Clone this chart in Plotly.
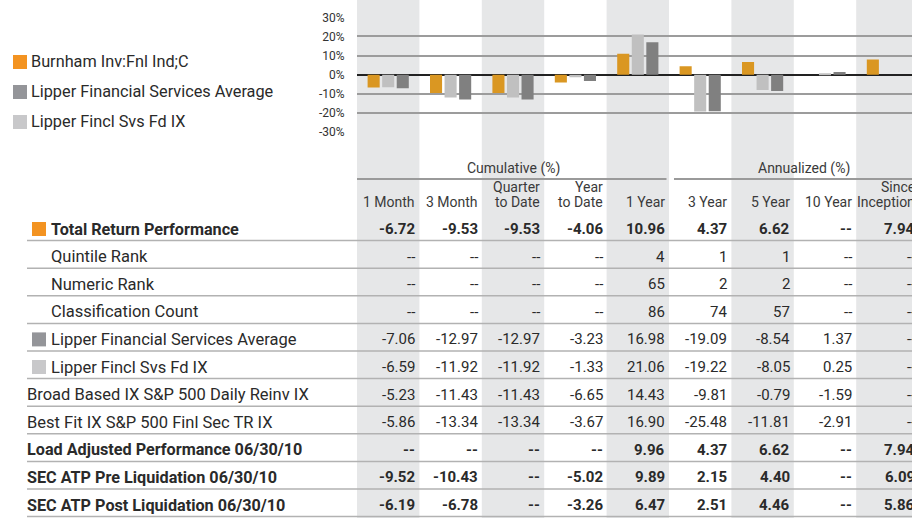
import plotly.graph_objects as go

# ---------------- data ----------------
periods = ["1 Month", "3 Month", "Quarter to Date", "Year to Date", "1 Year",
           "3 Year", "5 Year", "10 Year", "Since Inception"]
header_labels = ["1 Month", "3 Month", "Quarter<br>to Date", "Year<br>to Date", "1 Year",
                 "3 Year", "5 Year", "10 Year", "Since<br>Inception"]
group_labels = ["Cumulative (%)", "Annualized (%)"]
series_names = ["Burnham Inv:Fnl Ind;C", "Lipper Financial Services Average", "Lipper Fincl Svs Fd IX"]

fund = [-6.72, -9.53, -9.53, -4.06, 10.96, 4.37, 6.62, None, 7.94]
lipper_avg = [-7.06, -12.97, -12.97, -3.23, 16.98, -19.09, -8.54, 1.37, None]
lipper_ix = [-6.59, -11.92, -11.92, -1.33, 21.06, -19.22, -8.05, 0.25, None]

y_tick_vals = [30, 20, 10, 0, -10, -20, -30]
y_tick_text = ["30%", "20%", "10%", "0%", "-10%", "-20%", "-30%"]

quintile_rank = [None, None, None, None, 4, 1, 1, None, None]
numeric_rank = [None, None, None, None, 65, 2, 2, None, None]
classification_count = [None, None, None, None, 86, 74, 57, None, None]
broad_based = [-5.23, -11.43, -11.43, -6.65, 14.43, -9.81, -0.79, -1.59, None]
best_fit = [-5.86, -13.34, -13.34, -3.67, 16.90, -25.48, -11.81, -2.91, None]
load_adjusted = [None, None, None, None, 9.96, 4.37, 6.62, None, 7.94]
sec_pre = [-9.52, -10.43, None, -5.02, 9.89, 2.15, 4.40, None, 6.09]
sec_post = [-6.19, -6.78, None, -3.26, 6.47, 2.51, 4.46, None, 5.86]

table_labels = ["Total Return Performance", "Quintile Rank", "Numeric Rank",
                "Classification Count", "Lipper Financial Services Average",
                "Lipper Fincl Svs Fd IX", "Broad Based IX S&P 500 Daily Reinv IX",
                "Best Fit IX S&P 500 Finl Sec TR IX", "Load Adjusted Performance 06/30/10",
                "SEC ATP Pre Liquidation 06/30/10", "SEC ATP Post Liquidation 06/30/10"]
table_values = [fund, quintile_rank, numeric_rank, classification_count, lipper_avg,
                lipper_ix, broad_based, best_fit, load_adjusted, sec_pre, sec_post]

# ---------------- styling / layout ----------------
W, H = 912, 518
FONT = "Roboto, Liberation Sans, sans-serif"
BAR_COLORS = ["#DA9722", "#808080", "#C0C0C0"]      # fund, average, index
KEY_COLORS = ["#F39321", "#949599", "#C8C8CA"]
SHADE = "#E6E7E8"
TXT = "#2a2a2a"
HDR = "#3a3a3a"

PLOT_LEFT = 357
COL_PX = 62.4
X_END = -0.5 + (W - PLOT_LEFT) / COL_PX

ROW0_PX, ROW_PX = 229, 27.6


def v2(p):  # pixel -> y2 value
    return (p - ROW0_PX) / ROW_PX


def px(p):
    return p / W


def py(p):
    return 1 - p / H


def fmt(v):
    if v is None:
        return "--"
    if isinstance(v, int):
        return str(v)
    return f"{v:.2f}"


fig = go.Figure()
# bar order in chart: fund, index (light), average (dark)
for name, vals, col in [(series_names[0], fund, BAR_COLORS[0]),
                        (series_names[2], lipper_ix, BAR_COLORS[2]),
                        (series_names[1], lipper_avg, BAR_COLORS[1])]:
    fig.add_trace(go.Bar(x=periods, y=vals, name=name, marker_color=col,
                         marker_line_width=0, showlegend=False, hoverinfo="skip",
                         xaxis="x", yaxis="y"))

shapes = []
annotations = []

# shaded columns
for i in range(0, len(periods), 2):
    shapes.append(dict(type="rect", xref="x", yref="paper", x0=i - 0.5, x1=i + 0.5,
                       y0=0, y1=1, fillcolor=SHADE, line_width=0, layer="below"))

# row separator lines
for k in range(len(table_labels)):
    y = k + 0.42
    shapes.append(dict(type="line", xref="paper", yref="y2", x0=px(27), x1=1,
                       y0=y, y1=y, line=dict(color="#B2B2B2", width=1.5), layer="below"))

# group header lines
hy = v2(179)
shapes.append(dict(type="line", xref="x", yref="y2", x0=-0.5, x1=4.46, y0=hy, y1=hy,
                   line=dict(color="#9A9A9A", width=2)))
shapes.append(dict(type="line", xref="x", yref="y2", x0=4.58, x1=X_END, y0=hy, y1=hy,
                   line=dict(color="#9A9A9A", width=2)))

# group header texts
annotations.append(dict(text=group_labels[0], xref="x", yref="y2", x=2, y=v2(168),
                        xanchor="center", yanchor="middle", showarrow=False,
                        font=dict(size=14, color=HDR, family=FONT)))
annotations.append(dict(text=group_labels[1], xref="x", yref="y2", x=6.5, xshift=10, y=v2(168),
                        xanchor="center", yanchor="middle", showarrow=False,
                        font=dict(size=14, color=HDR, family=FONT)))

# column headers
for i, h in enumerate(header_labels):
    parts = h.split("<br>")
    for j, part in enumerate(reversed(parts)):
        annotations.append(dict(text=part, xref="x", yref="y2", x=i, xshift=COL_PX / 2 - 2,
                                y=v2(202 - 15 * j), xanchor="right", yanchor="middle",
                                showarrow=False, font=dict(size=14, color=HDR, family=FONT)))

bold_rows = {0, 8, 9, 10}
indent_rows = {0, 1, 2, 3, 4, 5}
key_rows = {0: KEY_COLORS[0], 4: KEY_COLORS[1], 5: KEY_COLORS[2]}

for k, (lab, vals) in enumerate(zip(table_labels, table_values)):
    bold = k in bold_rows
    txt = f"<b>{lab}</b>" if bold else lab
    xl = 49 if k in indent_rows else 25
    annotations.append(dict(text=txt, xref="paper", yref="y2", x=px(xl), y=k,
                            xanchor="left", yanchor="middle", showarrow=False,
                            font=dict(size=16.2 if bold else 16.5, color=TXT, family=FONT)))
    if k in key_rows:
        shapes.append(dict(type="rect", xref="paper", yref="y2", x0=px(32), x1=px(46),
                           y0=k - 7 / ROW_PX, y1=k + 7 / ROW_PX, fillcolor=key_rows[k],
                           line_width=0))
    for i, v in enumerate(vals):
        s = fmt(v)
        annotations.append(dict(text=f"<b>{s}</b>" if bold else s, xref="x", yref="y2",
                                x=i, xshift=COL_PX / 2 - 2, y=k, xanchor="right",
                                yanchor="middle", showarrow=False,
                                font=dict(size=15, color=TXT, family=FONT)))

# legend (left)
legend_order = [0, 1, 2]
for r, si in enumerate(legend_order):
    cy = 62 + 30 * r
    shapes.append(dict(type="rect", xref="paper", yref="paper", x0=px(13), x1=px(27),
                       y0=py(cy + 7), y1=py(cy - 7), fillcolor=KEY_COLORS[si], line_width=0))
    annotations.append(dict(text=series_names[si], xref="paper", yref="paper",
                            x=px(29), y=py(cy), xanchor="left", yanchor="middle",
                            showarrow=False, font=dict(size=16.3, color=TXT, family=FONT)))

# y axis domain from pixel positions (zero at 74.7 px, 1.913 px per %)
Y0PX, PPU = 74.7, 1.913
yr = 30.5
dom = [py(Y0PX + yr * PPU), py(Y0PX - yr * PPU)]

fig.update_layout(
    width=W, height=H, autosize=False,
    margin=dict(l=0, r=0, t=0, b=0, pad=0, autoexpand=False),
    paper_bgcolor="white", plot_bgcolor="rgba(0,0,0,0)",
    barmode="group", bargap=0.30, bargroupgap=0.17,
    showlegend=False,
    font=dict(family=FONT, color=TXT),
    xaxis=dict(type="category", categoryorder="array", categoryarray=periods,
               domain=[px(PLOT_LEFT), 1], range=[-0.5, X_END], anchor="y",
               showticklabels=False, showgrid=False, zeroline=False, showline=False,
               ticks="", fixedrange=True, automargin=False),
    yaxis=dict(domain=dom, range=[-yr, yr], anchor="x", tickvals=y_tick_vals,
               ticktext=y_tick_text, showgrid=True, gridcolor="#9C9C9C", gridwidth=1.5,
               zeroline=True, zerolinecolor="#222", zerolinewidth=1.5,
               ticks="outside", ticklen=9, tickcolor="rgba(0,0,0,0)", automargin=False,
               tickfont=dict(size=12, color="#333", family=FONT), showline=False,
               fixedrange=True),
    yaxis2=dict(domain=[0, 1], range=[v2(H), v2(0)], anchor="x", visible=False,
                showgrid=False, zeroline=False, automargin=False, fixedrange=True),
    shapes=shapes, annotations=annotations,
)

fig.write_html("out.html", config={"displayModeBar": False, "responsive": False},
               post_script="document.body.style.margin='0';document.body.style.overflow='hidden';")
